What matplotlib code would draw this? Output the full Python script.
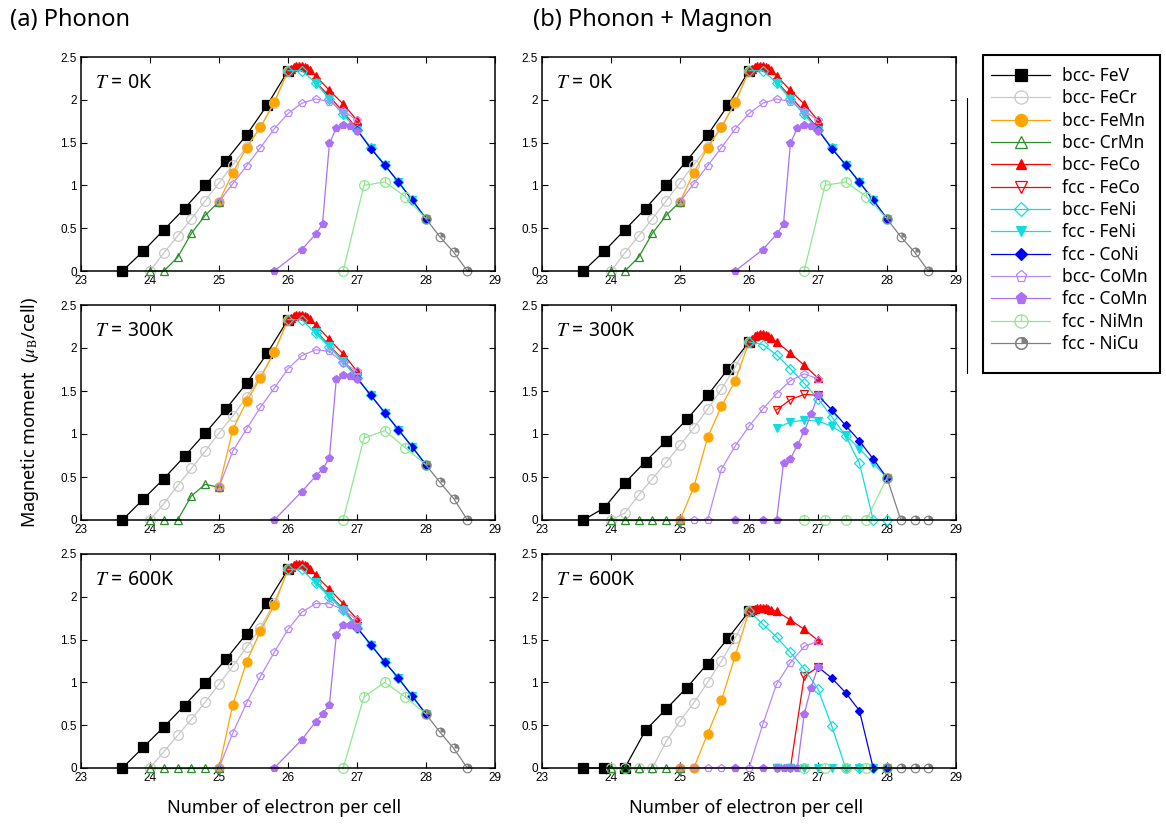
import numpy as np
import matplotlib
matplotlib.use('Agg')
import matplotlib.pyplot as plt
from matplotlib.path import Path
from matplotlib.patches import Rectangle
from matplotlib.lines import Line2D

plt.rcParams['mathtext.fontset'] = 'stix'

# composition grids (number of electrons per cell)
x_FeV = [23.6, 23.9, 24.2, 24.5, 24.8, 25.1, 25.4, 25.7, 26.0]
x_FeCr = [24.0, 24.2, 24.4, 24.6, 24.8, 25.0, 25.2, 25.4, 25.6, 25.8, 26.0]
x_FeMn = [25.0, 25.2, 25.4, 25.6, 25.8, 26.0]
x_CrMn = [24.0, 24.2, 24.4, 24.6, 24.8, 25.0]
x_FeCo_b = [26.0, 26.04, 26.08, 26.12, 26.16, 26.2, 26.24, 26.28, 26.32, 26.4, 26.6, 26.8, 27.0]
x_FeCo_f = [26.4, 26.6, 26.8, 27.0]
x_FeNi_b = [26.0, 26.2, 26.4, 26.6, 26.8, 27.0, 27.2, 27.4, 27.6, 27.8, 28.0]
x_FeNi_f = [26.4, 26.6, 26.8, 27.0, 27.2, 27.4, 27.6, 27.8, 28.0]
x_CoNi = [27.0, 27.2, 27.4, 27.6, 27.8, 28.0]
x_CoMn_b = [25.0, 25.2, 25.4, 25.6, 25.8, 26.0, 26.2, 26.4, 26.6, 26.8, 27.0]
x_CoMn_f = [25.8, 26.2, 26.4, 26.5, 26.6, 26.7, 26.8, 26.9, 27.0]
x_NiMn = [26.8, 27.1, 27.4, 27.7, 28.0]
x_NiCu = [28.0, 28.2, 28.4, 28.6]

# (a) phonon, T = 0K  (also (b) at 0K)
y_a0 = {
    'FeV': [0, 0.23, 0.48, 0.73, 1.00, 1.29, 1.59, 1.94, 2.34],
    'FeCr': [0, 0.21, 0.41, 0.61, 0.82, 1.03, 1.24, 1.45, 1.68, 1.96, 2.34],
    'FeMn': [0.81, 1.15, 1.44, 1.68, 1.97, 2.34],
    'CrMn': [0, 0, 0.16, 0.44, 0.65, 0.81],
    'FeCo_b': [2.34, 2.36, 2.38, 2.39, 2.39, 2.39, 2.38, 2.37, 2.35, 2.28, 2.11, 1.95, 1.76],
    'FeCo_f': [2.21, 2.04, 1.86, 1.66],
    'FeNi_b': [2.34, 2.34, 2.20, 2.01, 1.83, 1.65, 1.44, 1.24, 1.04, 0.83, 0.61],
    'FeNi_f': [2.20, 2.01, 1.83, 1.65, 1.44, 1.24, 1.04, 0.83, 0.61],
    'CoNi': [1.65, 1.43, 1.24, 1.04, 0.83, 0.61],
    'CoMn_b': [0.81, 1.02, 1.23, 1.44, 1.66, 1.84, 1.96, 2.01, 1.98, 1.87, 1.76],
    'CoMn_f': [0, 0.25, 0.43, 0.55, 1.49, 1.67, 1.71, 1.69, 1.63],
    'NiMn': [0, 1.00, 1.04, 0.87, 0.61],
    'NiCu': [0.61, 0.40, 0.22, 0],
}
# (a) phonon, T = 300K
y_a300 = {
    'FeV': [0, 0.24, 0.48, 0.74, 1.01, 1.29, 1.59, 1.94, 2.33],
    'FeCr': [0, 0.19, 0.40, 0.60, 0.80, 1.01, 1.21, 1.43, 1.67, 1.95, 2.33],
    'FeMn': [0.38, 1.05, 1.38, 1.65, 1.95, 2.33],
    'CrMn': [0, 0, 0, 0.28, 0.415, 0.38],
    'FeCo_b': [2.33, 2.35, 2.37, 2.38, 2.38, 2.38, 2.37, 2.36, 2.34, 2.27, 2.10, 1.93, 1.73],
    'FeCo_f': [2.20, 2.03, 1.86, 1.67],
    'FeNi_b': [2.33, 2.33, 2.17, 2.01, 1.84, 1.65, 1.45, 1.25, 1.05, 0.85, 0.64],
    'FeNi_f': [2.19, 2.02, 1.85, 1.66, 1.45, 1.25, 1.05, 0.85, 0.64],
    'CoNi': [1.65, 1.45, 1.25, 1.05, 0.85, 0.64],
    'CoMn_b': [0.38, 0.80, 1.06, 1.31, 1.53, 1.76, 1.91, 1.98, 1.96, 1.83, 1.73],
    'CoMn_f': [0, 0.33, 0.51, 0.59, 0.72, 1.64, 1.69, 1.68, 1.64],
    'NiMn': [0, 0.95, 1.04, 0.84, 0.64],
    'NiCu': [0.64, 0.44, 0.25, 0],
}
# (a) phonon, T = 600K
y_a600 = {
    'FeV': [0, 0.24, 0.48, 0.73, 0.99, 1.27, 1.57, 1.93, 2.32],
    'FeCr': [0, 0.19, 0.38, 0.57, 0.77, 0.98, 1.19, 1.41, 1.64, 1.93, 2.32],
    'FeMn': [0, 0.74, 1.24, 1.60, 1.90, 2.32],
    'CrMn': [0, 0, 0, 0, 0, 0],
    'FeCo_b': [2.32, 2.35, 2.37, 2.38, 2.38, 2.38, 2.37, 2.36, 2.33, 2.25, 2.09, 1.92, 1.74],
    'FeCo_f': [2.18, 2.02, 1.86, 1.66],
    'FeNi_b': [2.32, 2.32, 2.16, 2.00, 1.84, 1.64, 1.44, 1.24, 1.05, 0.84, 0.63],
    'FeNi_f': [2.17, 2.01, 1.85, 1.65, 1.44, 1.24, 1.05, 0.84, 0.63],
    'CoNi': [1.64, 1.44, 1.24, 1.05, 0.84, 0.63],
    'CoMn_b': [0, 0.41, 0.76, 1.07, 1.35, 1.62, 1.82, 1.92, 1.92, 1.85, 1.73],
    'CoMn_f': [0, 0.33, 0.54, 0.63, 0.74, 1.55, 1.67, 1.67, 1.64],
    'NiMn': [0, 0.83, 1.00, 0.83, 0.63],
    'NiCu': [0.63, 0.42, 0.23, 0],
}
# (b) phonon + magnon, T = 300K
y_b300 = {
    'FeV': [0, 0.14, 0.43, 0.68, 0.92, 1.17, 1.45, 1.76, 2.07],
    'FeCr': [0, 0.08, 0.29, 0.48, 0.67, 0.87, 1.07, 1.29, 1.52, 1.78, 2.07],
    'FeMn': [0, 0.38, 0.96, 1.32, 1.62, 2.07],
    'CrMn': [0, 0, 0, 0, 0, 0],
    'FeCo_b': [2.07, 2.11, 2.14, 2.15, 2.16, 2.16, 2.15, 2.14, 2.12, 2.07, 1.94, 1.80, 1.65],
    'FeCo_f': [1.28, 1.40, 1.46, 1.45],
    'FeNi_b': [2.07, 2.04, 1.92, 1.76, 1.59, 1.41, 1.20, 0.98, 0.66, 0, 0],
    'FeNi_f': [1.07, 1.14, 1.16, 1.15, 1.09, 0.99, 0.83, 0.66, 0.49],
    'CoNi': [1.45, 1.28, 1.10, 0.92, 0.71, 0.49],
    'CoMn_b': [0, 0, 0, 0.59, 0.86, 1.09, 1.29, 1.47, 1.62, 1.70, 1.64],
    'CoMn_f': [0, 0, 0, 0.66, 0.71, 0.87, 1.03, 1.23, 1.45],
    'NiMn': [0, 0, 0, 0, 0.49],
    'NiCu': [0.49, 0, 0, 0],
}
# (b) phonon + magnon, T = 600K
y_b600 = {
    'FeV': [0, 0, 0, 0.44, 0.69, 0.94, 1.22, 1.52, 1.83],
    'FeCr': [0, 0, 0, 0, 0.31, 0.55, 0.76, 1.00, 1.25, 1.52, 1.83],
    'FeMn': [0, 0, 0.40, 0.79, 1.31, 1.83],
    'CrMn': [0, 0, 0, 0, 0, 0],
    'FeCo_b': [1.83, 1.85, 1.86, 1.87, 1.87, 1.87, 1.87, 1.86, 1.85, 1.83, 1.73, 1.62, 1.49],
    'FeCo_f': [0, 0, 1.07, 1.18],
    'FeNi_b': [1.83, 1.68, 1.53, 1.35, 1.16, 0.92, 0.49, 0, 0, 0, 0],
    'FeNi_f': [0, 0, 0, 0, 0, 0, 0, 0, 0],
    'CoNi': [1.18, 1.05, 0.88, 0.67, 0, 0],
    'CoMn_b': [0, 0, 0, 0, 0, 0, 0.51, 0.98, 1.23, 1.42, 1.48],
    'CoMn_f': [0, 0, 0, 0, 0, 0, 0.63, 0.94, 1.18],
    'NiMn': [0, 0, 0, 0, 0],
    'NiCu': [0, 0, 0, 0],
}

x_ticks = [23, 24, 25, 26, 27, 28, 29]
y_ticks = [0, 0.5, 1, 1.5, 2, 2.5]
temps = ['0K', '300K', '600K']


# custom markers: circle with a stick (NiMn) and ring with filled quadrant (NiCu)
def ring_path(with_quarter=True):
    t = np.linspace(0, 2 * np.pi, 61)
    outer = np.c_[np.cos(t), np.sin(t)]
    inner = 0.76 * outer[::-1]
    verts = [outer, inner]
    codes = []
    for v in verts:
        c = [Path.LINETO] * len(v)
        c[0] = Path.MOVETO
        c[-1] = Path.CLOSEPOLY
        codes += c
    if with_quarter:
        a = np.linspace(0, np.pi / 2, 16)
        w = np.r_[[[0, 0]], np.c_[np.cos(a), np.sin(a)], [[0, 0]]]
        c = [Path.LINETO] * len(w)
        c[0] = Path.MOVETO
        c[-1] = Path.CLOSEPOLY
        verts.append(w)
        codes += c
    return Path(np.vstack(verts), codes)


stick = Path.make_compound_path(Path.unit_circle(), Path([(0, 0), (0, 1)], [Path.MOVETO, Path.LINETO]))
nicu = ring_path()

series = [
    # key, x, label, color, marker, facecolor, size
    ('FeV', x_FeV, 'bcc- FeV', 'black', 's', 'black', 6.5),
    ('FeCr', x_FeCr, 'bcc- FeCr', '#c8c8c8', 'o', 'none', 7),
    ('FeMn', x_FeMn, 'bcc- FeMn', '#ffa500', 'o', '#ffa500', 6.5),
    ('CrMn', x_CrMn, 'bcc- CrMn', '#2a8f2a', '^', 'none', 6),
    ('FeCo_b', x_FeCo_b, 'bcc- FeCo', '#ff0000', '^', '#ff0000', 5.5),
    ('FeCo_f', x_FeCo_f, 'fcc - FeCo', '#ff0000', 'v', 'none', 6),
    ('FeNi_b', x_FeNi_b, 'bcc- FeNi', '#10dede', 'D', 'none', 5),
    ('FeNi_f', x_FeNi_f, 'fcc - FeNi', '#10dede', 'v', '#10dede', 5.5),
    ('CoNi', x_CoNi, 'fcc - CoNi', '#0000ff', 'D', '#0000ff', 4.5),
    ('CoMn_b', x_CoMn_b, 'bcc- CoMn', '#b888ff', 'p', 'none', 6),
    ('CoMn_f', x_CoMn_f, 'fcc - CoMn', '#aa70f5', 'p', '#aa70f5', 6),
    ('NiMn', x_NiMn, 'fcc - NiMn', '#8ee88e', stick, 'none', 7),
    ('NiCu', x_NiCu, 'fcc - NiCu', '#808080', nicu, '#808080', 7),
]

fig = plt.figure(figsize=(11.66, 8.24), dpi=100)

W, H = 1166, 824
lefts = [81, 542]
rows = [(57, 271), (305, 520), (554, 768)]
data = [[y_a0, y_a0], [y_a300, y_b300], [y_a600, y_b600]]

handles = []
for r, (top, bot) in enumerate(rows):
    for c, left in enumerate(lefts):
        ax = fig.add_axes([left / W, 1 - bot / H, 414 / W, (bot - top) / H])
        ys = data[r][c]
        for key, xs, label, col, mk, fc, ms in series:
            if mk is nicu:
                ln, = ax.plot(xs, ys[key], color=col, lw=0.9, marker=mk, ms=ms,
                              mfc=col, mec=col, mew=0, clip_on=False)
            else:
                ln, = ax.plot(xs, ys[key], color=col, lw=0.9, marker=mk, ms=ms,
                              mfc=fc, mec=col, mew=0.9, clip_on=False)
            if r == 0 and c == 0:
                handles.append(ln)
        ax.set_xlim(23, 29)
        ax.set_ylim(0, 2.5)
        ax.set_xticks(x_ticks)
        ax.set_yticks(y_ticks)
        ax.set_xticklabels([str(v) for v in x_ticks], family='Liberation Sans')
        ax.set_yticklabels(['%g' % v for v in y_ticks], family='Liberation Sans')
        ax.tick_params(direction='in', top=True, right=True, length=4, width=0.8,
                       labelsize=8.5, pad=3)
        for s in ax.spines.values():
            s.set_linewidth(1.1)
        ax.text(0.035, 0.88, r'$T$ = ' + temps[r], transform=ax.transAxes,
                fontsize=14, va='center', ha='left', family='Noto Sans')

fig.text(10 / W, 1 - 20 / H, '(a) Phonon', fontsize=17, family='Noto Sans', va='center', ha='left')
fig.text(533 / W, 1 - 20 / H, '(b) Phonon + Magnon', fontsize=17, family='Noto Sans', va='center', ha='left')
for cx in [284, 746]:
    fig.text(cx / W, 1 - 808 / H, 'Number of electron per cell', fontsize=13,
             family='Noto Sans', ha='center', va='center')
fig.text(30 / W, 0.5, r'Magnetic moment  ($\mu_{\rm B}$/cell)', fontsize=13,
         family='Noto Sans', rotation=90, ha='center', va='center')

# legend box
fig.add_artist(Rectangle((983 / W, 1 - 373 / H), 177 / W, 318 / H, transform=fig.transFigure,
                         fill=False, lw=1.5, ec='black'))
fig.add_artist(Line2D([967 / W, 967 / W], [1 - 98 / H, 1 - 373 / H], transform=fig.transFigure,
                      color='black', lw=0.8))
fig.legend(handles, [s[2] for s in series], loc='upper left',
           bbox_to_anchor=(991 / W, 1 - 67 / H), frameon=False,
           prop={'family': 'Noto Sans', 'size': 12.5},
           handlelength=3.4, handletextpad=0.7, labelspacing=0.25,
           borderpad=0, borderaxespad=0, markerscale=1.35)

fig.savefig('out.png', dpi=100)
